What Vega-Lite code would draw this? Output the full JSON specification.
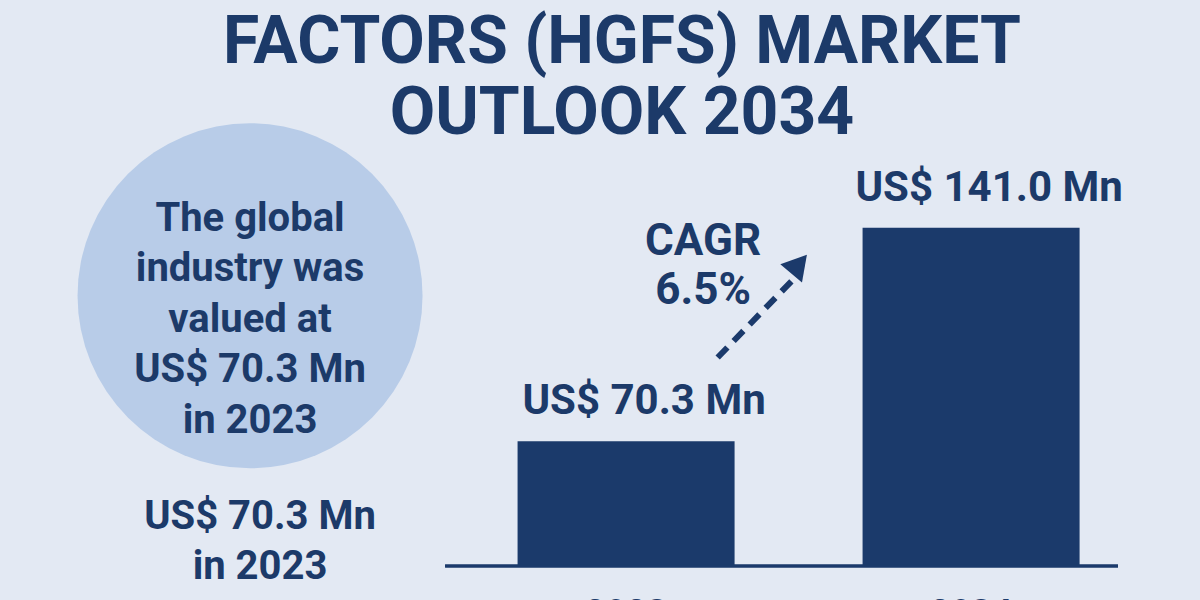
{
  "$schema": "https://vega.github.io/schema/vega-lite/v6.json",
  "width": 1200,
  "height": 600,
  "autosize": {"type": "fit", "contains": "padding"},
  "padding": {"top": 36, "left": 0, "right": 0, "bottom": 0},
  "background": "#e3e9f3",
  "config": {
    "view": {"stroke": null},
    "font": "Roboto",
    "text": {"font": "Roboto", "fontWeight": "bold", "color": "#1c3a69"}
  },
  "title": {
    "text": ["FACTORS (HGFS) MARKET", "OUTLOOK 2034"],
    "font": "Roboto",
    "fontSize": 66,
    "fontWeight": "bold",
    "color": "#1c3a69",
    "lineHeight": 71,
    "anchor": "middle",
    "frame": "group",
    "dx": 22,
    "offset": -25
  },
  "datasets": {
    "bars": [
      {"year": "2023", "value": 70.3, "label": "US$ 70.3 Mn"},
      {"year": "2034", "value": 141.0, "label": "US$ 141.0 Mn"}
    ],
    "summary": [
      {"text": "The global\nindustry was\nvalued at\nUS$ 70.3 Mn\nin 2023"}
    ],
    "footnote": [
      {"text": "US$ 70.3 Mn\nin 2023"}
    ],
    "cagr": [
      {"text": "CAGR\n6.5%", "rate": 6.5}
    ]
  },
  "encoding": {
    "x": {
      "field": "year",
      "type": "nominal",
      "axis": null,
      "scale": {
        "domain": ["summary", "2023", "2034"],
        "paddingInner": 0.371,
        "paddingOuter": 0.4246,
        "align": 0.589
      }
    },
    "y": {
      "type": "quantitative",
      "axis": null,
      "scale": {"domain": [17.77, 167.09], "zero": false, "nice": false}
    }
  },
  "layer": [
    {
      "data": {"name": "summary"},
      "mark": {"type": "point", "shape": "circle", "filled": true, "size": 119025, "color": "#b8cce8", "opacity": 1},
      "encoding": {
        "x": {"datum": "summary", "bandPosition": 0.357},
        "y": {"datum": 118.5}
      }
    },
    {
      "data": {"name": "summary"},
      "mark": {"type": "text", "fontSize": 40, "lineHeight": 50.5, "lineBreak": "\n", "baseline": "middle", "align": "center"},
      "encoding": {
        "x": {"datum": "summary", "bandPosition": 0.357},
        "y": {"datum": 143.96},
        "text": {"field": "text", "type": "nominal"}
      }
    },
    {
      "data": {"name": "footnote"},
      "mark": {"type": "text", "fontSize": 40, "lineHeight": 50, "lineBreak": "\n", "baseline": "middle", "align": "center"},
      "encoding": {
        "x": {"datum": "summary", "bandPosition": 0.403},
        "y": {"datum": 45.19},
        "text": {"field": "text", "type": "nominal"}
      }
    },
    {
      "data": {"name": "bars"},
      "mark": {"type": "bar", "color": "#1b3a6b"},
      "encoding": {
        "x": {"field": "year", "type": "nominal"},
        "y": {"field": "value", "type": "quantitative"},
        "y2": {"datum": 29.33}
      }
    },
    {
      "data": {"name": "bars"},
      "mark": {"type": "text", "fontSize": 42, "baseline": "alphabetic", "dy": -27, "dx": 18},
      "encoding": {
        "x": {"field": "year", "type": "nominal"},
        "y": {"field": "value", "type": "quantitative"},
        "text": {"field": "label", "type": "nominal"}
      }
    },
    {
      "data": {"name": "bars"},
      "mark": {"type": "text", "fontSize": 36, "baseline": "top", "clip": true},
      "encoding": {
        "x": {"field": "year", "type": "nominal"},
        "y": {"datum": 18.9},
        "text": {"field": "year", "type": "nominal"}
      }
    },
    {
      "data": {"name": "bars"},
      "mark": {"type": "rule", "color": "#1b3a6b", "strokeWidth": 3},
      "encoding": {
        "x": {"datum": "2023", "bandPosition": -0.334},
        "x2": {"datum": "2034", "bandPosition": 1.177},
        "y": {"datum": 29.0}
      }
    },
    {
      "data": {"name": "cagr"},
      "mark": {"type": "text", "fontSize": 44, "lineHeight": 49, "lineBreak": "\n", "baseline": "middle", "align": "center"},
      "encoding": {
        "x": {"datum": "2023", "bandPosition": 0.855},
        "y": {"datum": 136.4},
        "text": {"field": "text", "type": "nominal"}
      }
    },
    {
      "data": {"name": "cagr"},
      "mark": {"type": "rule", "color": "#1b3a6b", "strokeWidth": 6, "strokeDash": [14, 9]},
      "encoding": {
        "x": {"datum": "2023", "bandPosition": 0.922},
        "x2": {"datum": "2023", "bandPosition": 1.265},
        "y": {"datum": 98.05},
        "y2": {"datum": 123.5}
      }
    },
    {
      "data": {"name": "cagr"},
      "mark": {"type": "point", "shape": "triangle-up", "filled": true, "size": 800, "angle": 40, "color": "#1b3a6b", "opacity": 1},
      "encoding": {
        "x": {"datum": "2023", "bandPosition": 1.297},
        "y": {"datum": 129.0}
      }
    }
  ]
}
